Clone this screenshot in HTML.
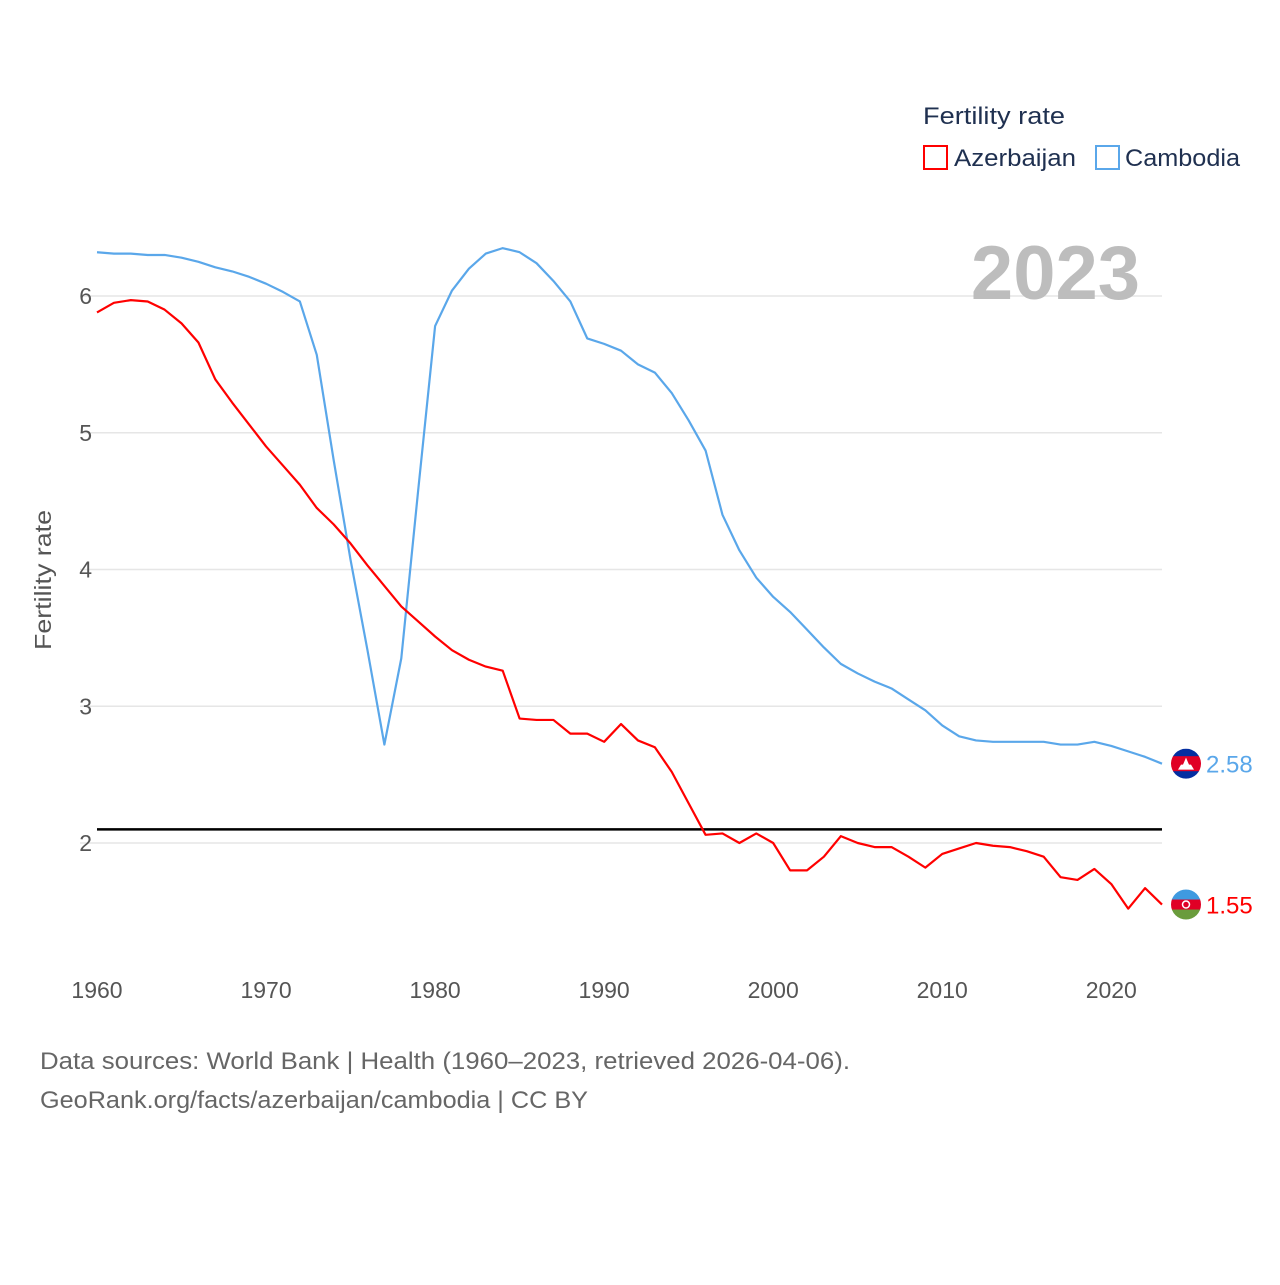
<!DOCTYPE html>
<html><head><meta charset="utf-8"><style>
body{margin:0;background:#fff;font-family:"Liberation Sans",sans-serif}
svg text{font-family:"Liberation Sans",sans-serif}
</style></head><body>
<svg id="chart" width="1280" height="1280" viewBox="0 0 1280 1280" xmlns="http://www.w3.org/2000/svg">
<g id="grid"></g>
<g id="yticks"></g>
<g id="xticks"></g>
<text x="51" y="580" transform="rotate(-90 51 580)" text-anchor="middle" font-size="23" fill="#555" textLength="140" lengthAdjust="spacingAndGlyphs">Fertility rate</text>
<text x="1140" y="299" text-anchor="end" font-size="76" font-weight="bold" fill="#bdbdbd">2023</text>
<line id="refline" x1="97" x2="1162" stroke="#000" stroke-width="2.5"/>
<g id="series"></g>
<g>
<text x="923" y="124" font-size="24" fill="#1f3050" textLength="142" lengthAdjust="spacingAndGlyphs">Fertility rate</text>
<rect x="924" y="146" width="23" height="23" fill="none" stroke="#f00" stroke-width="2"/>
<text x="954" y="166" font-size="24" fill="#1f3050" textLength="122" lengthAdjust="spacingAndGlyphs">Azerbaijan</text>
<rect x="1096" y="146" width="23" height="23" fill="none" stroke="#5aa7ea" stroke-width="2"/>
<text x="1125" y="166" font-size="24" fill="#1f3050" textLength="115" lengthAdjust="spacingAndGlyphs">Cambodia</text>
</g>
<g id="flags"></g>
<text x="40" y="1069" font-size="24" fill="#666" textLength="810" lengthAdjust="spacingAndGlyphs">Data sources: World Bank | Health (1960–2023, retrieved 2026-04-06).</text>
<text x="40" y="1108" font-size="24" fill="#666" textLength="548" lengthAdjust="spacingAndGlyphs">GeoRank.org/facts/azerbaijan/cambodia | CC BY</text>
</svg>
<script>
const years=[];for(let y=1960;y<=2023;y++)years.push(y);
const azerbaijan=[5.88,5.95,5.97,5.96,5.90,5.80,5.66,5.39,5.22,5.06,4.90,4.76,4.62,4.45,4.33,4.19,4.03,3.88,3.73,3.62,3.51,3.41,3.34,3.29,3.26,2.91,2.90,2.90,2.80,2.80,2.74,2.87,2.75,2.70,2.52,2.29,2.06,2.07,2.00,2.07,2.00,1.80,1.80,1.90,2.05,2.00,1.97,1.97,1.90,1.82,1.92,1.96,2.00,1.98,1.97,1.94,1.90,1.75,1.73,1.81,1.70,1.52,1.67,1.55];
const cambodia=[6.32,6.31,6.31,6.30,6.30,6.28,6.25,6.21,6.18,6.14,6.09,6.03,5.96,5.57,4.80,4.07,3.41,2.72,3.35,4.58,5.78,6.04,6.20,6.31,6.35,6.32,6.24,6.11,5.96,5.69,5.65,5.60,5.50,5.44,5.29,5.09,4.87,4.40,4.14,3.94,3.80,3.69,3.56,3.43,3.31,3.24,3.18,3.13,3.05,2.97,2.86,2.78,2.75,2.74,2.74,2.74,2.74,2.72,2.72,2.74,2.71,2.67,2.63,2.58];
const yTicks=[2,3,4,5,6];
const xTicks=[1960,1970,1980,1990,2000,2010,2020];
const replacement=2.1;
const NS="http://www.w3.org/2000/svg";
const X=v=>97+(v-1960)*(1162-97)/63;
const Y=v=>296+(6-v)*136.75;
function mk(t,a,p){const e=document.createElementNS(NS,t);for(const k in a)e.setAttribute(k,a[k]);p.appendChild(e);return e;}
const grid=document.getElementById('grid'),yt=document.getElementById('yticks'),xt=document.getElementById('xticks');
yTicks.forEach(v=>{
 const l=mk('line',{x1:80,x2:1162,y1:Y(v),y2:Y(v),stroke:'#e6e6e6','stroke-width':1.5},grid);
 
 
 const t=mk('text',{x:92,y:Y(v)+8,'text-anchor':'end','font-size':23,fill:'#555'},yt);
 t.textContent=v;
 
 
});
xTicks.forEach(v=>{
 const t=mk('text',{x:X(v),y:998,'text-anchor':'middle','font-size':23,fill:'#555'},xt);
 t.textContent=v;
 
 
});
const rl=document.getElementById('refline');rl.setAttribute('y1',Y(replacement));rl.setAttribute('y2',Y(replacement));
const sg=document.getElementById('series');
[[cambodia,'#5aa7ea','cambodia-line'],[azerbaijan,'#f00','azerbaijan-line']].forEach(([d,c,n])=>{
 const p=mk('polyline',{points:d.map((v,i)=>X(years[i])+','+Y(v)).join(' '),fill:'none',stroke:c,'stroke-width':2.2,'stroke-linejoin':'round'},sg);
 
 
});
const fg=document.getElementById('flags');
function flag(v,cols,label,color,name){
 const cy=Y(v),cx=1186,r=15;
 const g=mk('g',{},fg);
 
 
 const id='c'+name;
 const cp=mk('clipPath',{id:id},g);mk('circle',{cx:cx,cy:cy,r:r},cp);
 const h=2*r/cols.length;
 cols.forEach((c,i)=>mk('rect',{x:cx-r,y:cy-r+i*h,width:2*r,height:h+0.5,fill:c,'clip-path':'url(#'+id+')'},g));
 const t=mk('text',{x:1206,y:cy+9,'font-size':24,fill:color},g);t.textContent=label;
}
flag(cambodia[cambodia.length-1],['#032ea1','#e00025','#e00025','#032ea1'],cambodia[cambodia.length-1].toFixed(2),'#5aa7ea','flag-cambodia');
mk('path',{d:`M1178 ${Y(2.58)+6} h16 l-3 -5 h-10 z M1183 ${Y(2.58)+1} l3 -7 l3 7 z`,fill:'#fff'},fg);
flag(azerbaijan[azerbaijan.length-1],['#3f9ae0','#e00025','#6a9c3c'],azerbaijan[azerbaijan.length-1].toFixed(2),'#f00','flag-azerbaijan');
mk('circle',{cx:1186,cy:Y(1.55),r:3.5,fill:'none',stroke:'#fff','stroke-width':1.5},fg);
</script>
</body></html>
